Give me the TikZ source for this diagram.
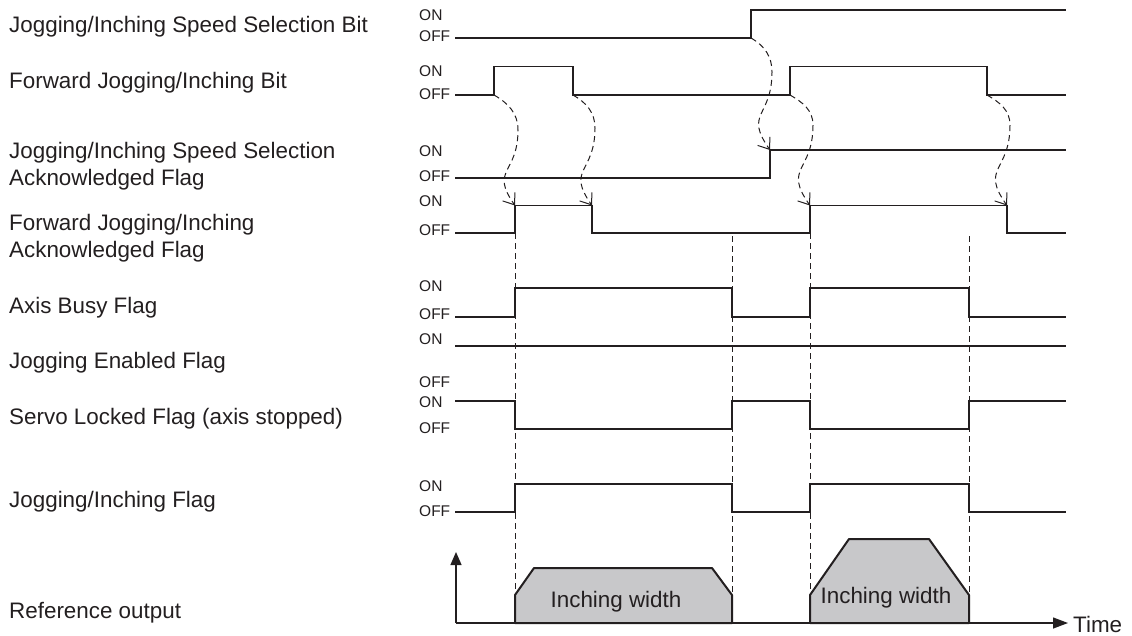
\documentclass[tikz,border=0pt]{standalone}
\usepackage{fontspec}
\setmainfont{Liberation Sans}
\usetikzlibrary{arrows.meta}
\definecolor{ink}{RGB}{35,31,32}
\definecolor{trapfill}{RGB}{200,200,202}
\begin{document}
\begin{tikzpicture}[x=1pt,y=-1pt,
  lbl/.style={anchor=base west, inner sep=0pt, font=\fontsize{22.4}{28}\selectfont, text=ink},
  lbltwo/.style={anchor=north west, inner sep=0pt, align=left, font=\fontsize{22.4}{27.5}\selectfont, text=ink},
  lvl/.style={anchor=base west, inner sep=0pt, font=\fontsize{15.5}{18}\selectfont, text=ink},
  sig/.style={draw=ink, line width=1.3pt, line join=miter},
  guide/.style={draw=ink, line width=1pt, dash pattern=on 6pt off 4pt},
  cause/.style={draw=ink, line width=1pt, dash pattern=on 6pt off 4pt, -{Straight Barb[length=10pt,width=15pt,line width=1pt]}},
  axisline/.style={draw=ink, line width=1.3pt},
  trapshape/.style={draw=ink, fill=trapfill, line width=2pt, line join=round},
  trapnote/.style={anchor=base, inner sep=0pt, font=\fontsize{22.4}{26}\selectfont, text=ink},
]
\useasboundingbox (0,0) rectangle (1132,635);

% ---------------- left labels ----------------
\node[lbl] (l1) at (9,32) {Jogging/Inching Speed Selection Bit};
\node[lbl] (l2) at (9,88) {Forward Jogging/Inching Bit};
\node[lbltwo] (l3) at (9,142) {Jogging/Inching Speed Selection\\Acknowledged Flag};
\node[lbltwo] (l4) at (9,214) {Forward Jogging/Inching\\Acknowledged Flag};
\node[lbl] (l5) at (9,313) {Axis Busy Flag};
\node[lbl] (l6) at (9,368.5) {Jogging Enabled Flag};
\node[lbl] (l7) at (9,424.5) {Servo Locked Flag (axis stopped)};
\node[lbl] (l8) at (9,507) {Jogging/Inching Flag};
\node[lbl] (l9) at (9,618) {Reference output};

% ---------------- ON / OFF labels ----------------
\node[lvl] (on1)  at (419,20)    {ON};
\node[lvl] (off1) at (419,41.5)  {OFF};
\node[lvl] (on2)  at (419,76)    {ON};
\node[lvl] (off2) at (419,99)    {OFF};
\node[lvl] (on3)  at (419,156)   {ON};
\node[lvl] (off3) at (419,181.5) {OFF};
\node[lvl] (on4)  at (419,206.5) {ON};
\node[lvl] (off4) at (419,235.5) {OFF};
\node[lvl] (on5)  at (419,291.5) {ON};
\node[lvl] (off5) at (419,319)   {OFF};
\node[lvl] (on6)  at (419,344)   {ON};
\node[lvl] (off6) at (419,387)   {OFF};
\node[lvl] (on7)  at (419,407)   {ON};
\node[lvl] (off7) at (419,433)   {OFF};
\node[lvl] (on8)  at (419,491)   {ON};
\node[lvl] (off8) at (419,516.5) {OFF};

% ---------------- edge coordinates ----------------
\coordinate (s1r) at (751,38);
\coordinate (s2r1) at (494,95);
\coordinate (s2f1) at (573,95);
\coordinate (s2r2) at (790,95);
\coordinate (s2f2) at (987,95);
\coordinate (s3r) at (770,150);
\coordinate (s4r1) at (515,205.5);
\coordinate (s4f1) at (592,205.5);
\coordinate (s4r2) at (810,205.5);
\coordinate (s4f2) at (1007,205.5);

% ---------------- signals ----------------
\draw[sig] (455,38) -- (s1r) -- (751,10) -- (1066,10);
\draw[sig] (455,95) -- (s2r1) -- (494,66.5) -- (573,66.5) -- (s2f1) -- (s2r2)
  -- (790,66.5) -- (987,66.5) -- (s2f2) -- (1066,95);
\draw[sig] (455,178) -- (770,178) -- (s3r) -- (1066,150);
\draw[sig] (455,233) -- (515,233) -- (s4r1) -- (s4f1) -- (592,233) -- (810,233)
  -- (s4r2) -- (s4f2) -- (1007,233) -- (1066,233);
\draw[sig] (455,317) -- (515,317) -- (515,288) -- (732,288) -- (732,317) -- (810,317)
  -- (810,288) -- (969,288) -- (969,317) -- (1066,317);
\draw[sig] (455,346) -- (1066,346);
\draw[sig] (455,401) -- (515,401) -- (515,429) -- (732,429) -- (732,401) -- (810,401)
  -- (810,429) -- (969,429) -- (969,401) -- (1066,401);
\draw[sig] (455,512) -- (515,512) -- (515,484) -- (732,484) -- (732,512) -- (810,512)
  -- (810,484) -- (969,484) -- (969,512) -- (1066,512);

% ---------------- cause arrows ----------------
\draw[cause] (s2r1) to[out=-30,in=90] ++(24,35) to[out=-90,in=125,looseness=1.5] (s4r1);
\draw[cause] (s2f1) to[out=-30,in=90] ++(22,33) to[out=-90,in=125,looseness=1.5] (s4f1);
\draw[cause] (s1r) to[out=-30,in=90] ++(21,34) to[out=-90,in=125,looseness=1.5] (s3r);
\draw[cause] (s2r2) to[out=-30,in=90] ++(23,30) to[out=-90,in=125,looseness=1.5] (s4r2);
\draw[cause] (s2f2) to[out=-30,in=90] ++(23,30) to[out=-90,in=125,looseness=1.5] (s4f2);

% ---------------- reference output ----------------
\coordinate (org) at (456,623);
\coordinate (ytip) at (456,552);
\coordinate (xtip) at (1068,623);
\draw[trapshape] (515,623) -- (515,595) -- (534,568) -- (712,568) -- (732,595) -- (732,623) -- cycle;
\draw[trapshape] (810,623) -- (810,595) -- (849,539) -- (929,539) -- (969,595) -- (969,623) -- cycle;
\node[trapnote] (w1) at (616,607) {Inching width};
\node[trapnote] (w2) at (886,603) {Inching width};
\draw[axisline, -{Triangle[length=13pt,width=11pt]}] (org) -- (ytip);
\draw[axisline, -{Triangle[length=15pt,width=11pt]}] (org) -- (xtip);
\node[anchor=west, inner sep=0pt, font=\fontsize{22.4}{26}\selectfont, text=ink] (time) at (1073,624) {Time};

% ---------------- guide lines ----------------
\draw[guide] (515,233) -- (515,595);
\draw[guide] (732,236) -- (732,595);
\draw[guide] (810,233) -- (810,595);
\draw[guide] (969,236) -- (969,595);
\end{tikzpicture}
\end{document}
